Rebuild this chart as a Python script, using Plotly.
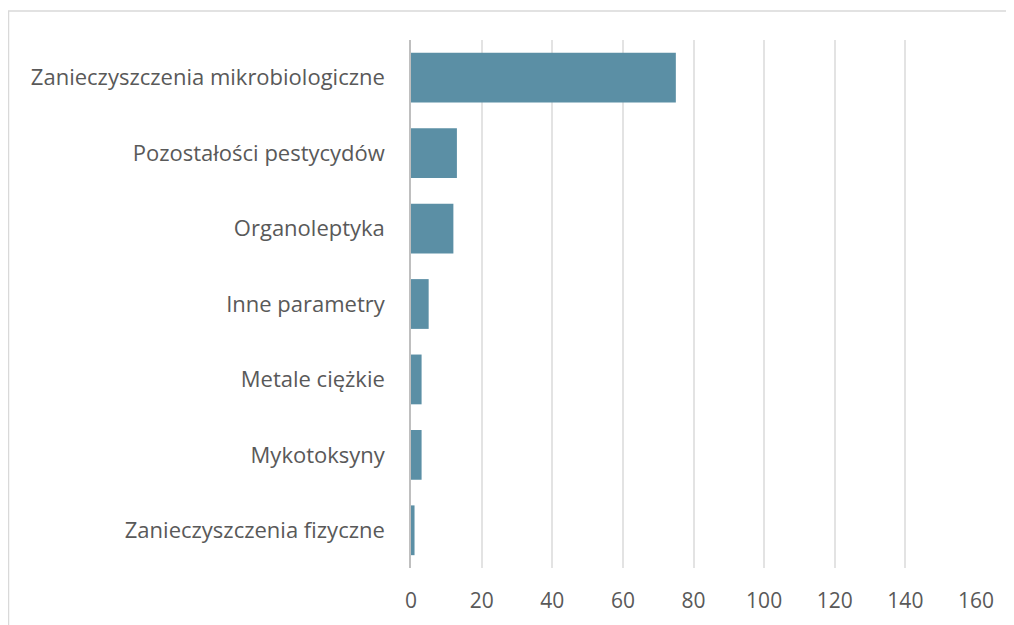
import plotly.graph_objects as go

categories = [
    "Zanieczyszczenia mikrobiologiczne",
    "Pozostałości pestycydów",
    "Organoleptyka",
    "Inne parametry",
    "Metale ciężkie",
    "Mykotoksyny",
    "Zanieczyszczenia fizyczne",
]
values = [75, 13, 12, 5, 3, 3, 1]
x_ticks = [0, 20, 40, 60, 80, 100, 120, 140, 160]

W, H = 1014, 625
OFF = 8  # page body margin
L, T = 411 - OFF, 40 - OFF
pw, ph = 565, 528
R = W - L - pw
B = H - T - ph

fig = go.Figure(go.Bar(
    x=values, y=categories, orientation="h",
    marker=dict(color="#5B8FA5", line=dict(width=0)),
    width=0.66,
))

def px_x(p):
    return (p - OFF - L) / pw

def px_y(p):
    return (H - B - (p - OFF)) / ph

fig.add_shape(type="rect", xref="paper", yref="paper",
              x0=px_x(8.5), x1=px_x(1040), y0=px_y(660), y1=px_y(11),
              line=dict(color="#D9D9D9", width=1.5), fillcolor="rgba(0,0,0,0)", layer="below")

fig.update_layout(
    width=W, height=H,
    margin=dict(l=L, r=R, t=T, b=B, autoexpand=False),
    paper_bgcolor="white", plot_bgcolor="white",
    font=dict(family="Open Sans, sans-serif", size=21, color="#595959"),
    showlegend=False,
)
fig.update_xaxes(
    range=[0, 160], tickvals=x_ticks, ticktext=[str(t) for t in x_ticks],
    showgrid=True, gridcolor="#E3E3E3", gridwidth=1.5,
    zeroline=False, showline=False, ticks="", ticklabelstandoff=18,
    tickfont=dict(size=21, color="#595959"), automargin=False,
)
fig.update_yaxes(
    categoryorder="array", categoryarray=categories[::-1],
    showline=True, linecolor="#BFBFBF", linewidth=1.5,
    showgrid=False, ticks="", ticklabelstandoff=20,
    tickfont=dict(size=22, color="#595959"), automargin=False,
)

fig.write_html("out.html")
